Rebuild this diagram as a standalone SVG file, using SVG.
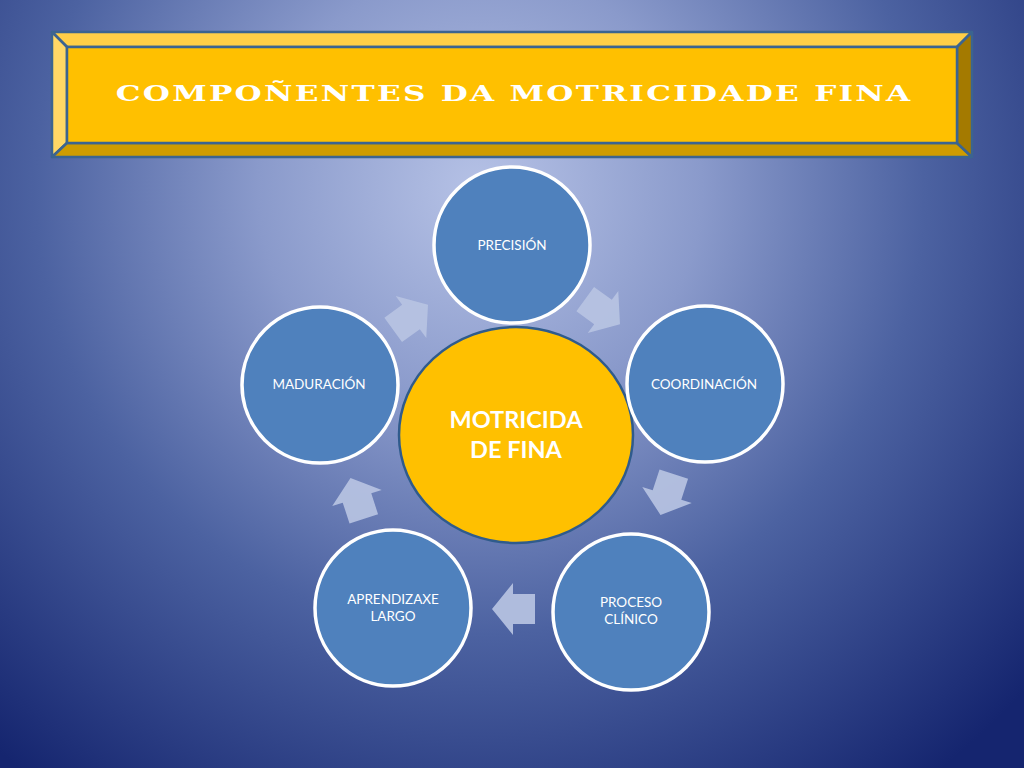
<svg xmlns="http://www.w3.org/2000/svg" width="1024" height="768" viewBox="0 0 1024 768">
<defs>
<radialGradient id="bg" gradientUnits="userSpaceOnUse" cx="480" cy="190" r="740">
<stop offset="0" stop-color="#b6c2e6"/>
<stop offset="0.3" stop-color="#8a9acb"/>
<stop offset="0.6" stop-color="#4c62a1"/>
<stop offset="1" stop-color="#15256f"/>
</radialGradient>
<polygon id="arr" points="-22,-15 0,-15 0,-26 21,0 0,26 0,15 -22,15"/>
<style>
.node{fill:#4f81bd;stroke:#ffffff;stroke-width:3.5}
.lbl{font-family:Lato,"Liberation Sans",Arial,sans-serif;font-size:13.5px;fill:#ffffff;text-anchor:middle}
.ar{fill:#b7c3e2;opacity:0.92}
.bev{stroke:#3b6490;stroke-width:2.5;stroke-linejoin:round}
.ctr{font-family:Lato,"Liberation Sans",sans-serif;font-weight:bold;font-size:23.5px;fill:#ffffff;text-anchor:middle}
</style>
</defs>
<rect width="1024" height="768" fill="url(#bg)"/>

<g id="title">
<polygon class="bev" points="52,32 972,32 957,47 67,47" fill="#ffcf47"/>
<polygon class="bev" points="52,32 67,47 67,143 52,157" fill="#ffd865"/>
<polygon class="bev" points="52,157 67,143 957,143 972,157" fill="#cf9c00"/>
<polygon class="bev" points="972,32 972,157 957,143 957,47" fill="#a47a00"/>
<rect class="bev" x="67" y="47" width="890" height="96" fill="#ffc000"/>
<text transform="translate(513,101) scale(1.45,1)" x="0" y="0" text-anchor="middle" textLength="548" lengthAdjust="spacing" font-family="'DejaVu Serif','Liberation Serif',serif" font-weight="bold" font-size="21.5" fill="#ffffff">COMPOÑENTES DA MOTRICIDADE FINA</text>
</g>

<g id="connectors">
<use href="#arr" class="ar" transform="translate(411,317) rotate(-36)"/>
<use href="#arr" class="ar" transform="translate(603,312) rotate(36)"/>
<use href="#arr" class="ar" transform="translate(667,495) rotate(108)"/>
<use href="#arr" class="ar" transform="translate(513,609) rotate(180)"/>
<use href="#arr" class="ar" transform="translate(357,498) rotate(252)"/>
</g>

<g id="center">
<ellipse cx="516" cy="435" rx="117" ry="108" fill="#ffc000" stroke="#2f5b8c" stroke-width="2.5"/>
<text class="ctr" x="516" y="428">MOTRICIDA</text>
<text class="ctr" x="516" y="458">DE FINA</text>
</g>

<g id="precision">
<circle class="node" cx="512" cy="245" r="78"/>
<text class="lbl" x="512" y="250">PRECISIÓN</text>
</g>
<g id="coordinacion">
<circle class="node" cx="705" cy="384" r="78"/>
<text class="lbl" x="704" y="389">COORDINACIÓN</text>
</g>
<g id="proceso">
<circle class="node" cx="631" cy="612" r="78"/>
<text class="lbl" x="631" y="607">PROCESO</text>
<text class="lbl" x="631" y="624">CLÍNICO</text>
</g>
<g id="aprendizaxe">
<circle class="node" cx="393" cy="608" r="78"/>
<text class="lbl" x="393" y="604">APRENDIZAXE</text>
<text class="lbl" x="393" y="621">LARGO</text>
</g>
<g id="maduracion">
<circle class="node" cx="320" cy="385" r="78"/>
<text class="lbl" x="319" y="389">MADURACIÓN</text>
</g>
</svg>
